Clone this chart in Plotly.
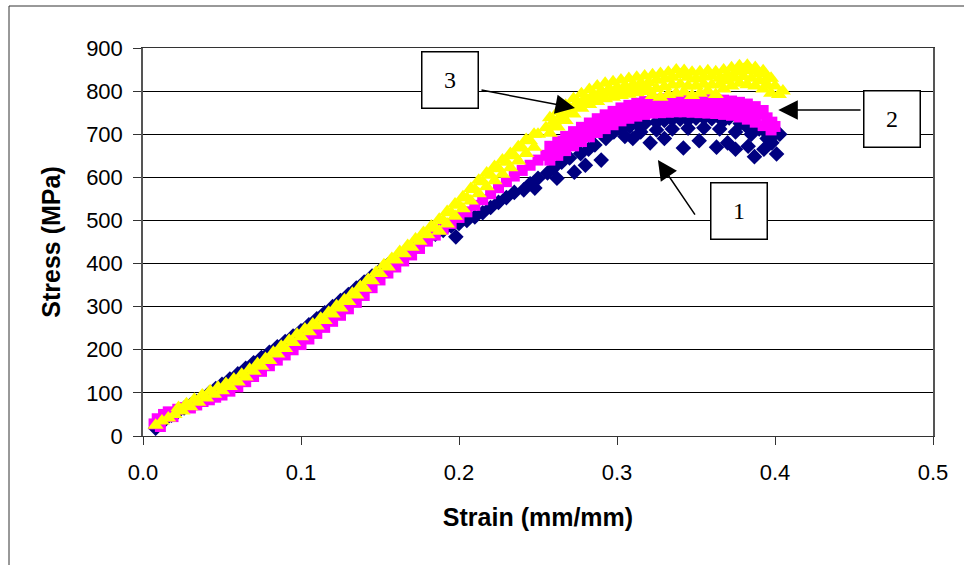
import plotly.graph_objects as go

# ---------------- data ----------------
# Series 1 (navy diamonds)
strain_1 = [0.008,0.011,0.014,0.018,0.022,0.026,0.030,0.034,0.038,0.042,0.046,0.050,
            0.055,0.060,0.065,0.070,0.075,0.080,0.085,0.090,0.095,0.100,
            0.105,0.110,0.115,0.120,0.125,0.130,0.135,0.140,0.145,0.150,
            0.155,0.160,0.165,0.170,0.175,0.180,0.185,0.190,0.195,
            0.198,0.200,0.205,0.210,0.215,0.220,0.225,0.230,0.235,
            0.241,0.245,0.250,0.256,0.260,0.265,0.270,0.273,0.277,0.282,0.286,0.290,0.293,0.298,
            0.303,0.308,0.313,0.318,0.321,0.325,0.330,0.335,0.340,0.342,0.345,0.350,0.355,
            0.360,0.363,0.367,0.371,0.375,0.378,0.382,0.387,0.390,0.394,0.397,0.401,0.403,
            0.305,0.315,0.325,0.335,0.345,0.355,0.365,0.375,0.385,0.395,
            0.330,0.352,0.370,0.383,0.393,0.398,0.280,0.262,0.248,0.310]
stress_1 = [18,30,38,48,56,65,72,80,90,100,110,120,
            132,144,157,170,182,194,207,219,232,244,
            258,272,286,300,314,328,343,357,371,384,
            397,410,422,434,446,458,468,477,487,
            462,493,500,508,518,530,542,553,565,
            571,585,598,610,622,635,645,612,655,665,675,640,690,705,
            712,718,722,726,680,728,732,735,735,668,733,737,738,
            736,670,730,738,665,725,718,648,712,705,690,654,700,
            695,705,710,712,714,715,712,705,700,690,
            690,685,680,672,665,680,628,598,575,690]

# Series 2 (magenta squares)
strain_2 = [0.007,0.009,0.011,0.013,0.016,0.019,0.022,0.026,0.030,0.034,0.038,0.042,0.046,0.050,
            0.055,0.060,0.065,0.070,0.075,0.080,0.085,0.090,0.095,0.100,
            0.105,0.110,0.115,0.120,0.125,0.130,0.135,0.140,0.145,0.150,
            0.155,0.160,0.165,0.170,0.175,0.180,0.185,0.190,0.195,0.200,
            0.205,0.210,0.215,0.220,0.225,0.230,0.235,0.240,0.245,0.250,
            0.255,0.260,0.265,0.270,0.275,0.280,0.285,0.290,0.295,0.300,
            0.305,0.310,0.315,0.320,0.325,0.330,0.335,0.340,0.345,0.350,
            0.355,0.360,0.365,0.370,0.375,0.380,0.385,0.390,0.395,0.398,0.400,
            0.2575,0.2625,0.2675,0.2725,0.2775,0.2825,0.2875,0.2925,0.2975,0.3025,
            0.3075,0.3125,0.3175,0.3225,0.3275,0.3325,0.3375,0.3425,0.3475,0.3525,
            0.3575,0.3625,0.3675,0.3725,0.3775,0.3825,0.3875,0.3925,
            0.2575,0.2625,0.2675,0.2725,0.2775,0.2825,0.2875,0.2925,0.2975,0.3025,
            0.3075,0.3125,0.3175,0.3225,0.3275,0.3325,0.3375,0.3425,0.3475,0.3525,
            0.3575,0.3625,0.3675,0.3725,0.3775,0.3825,0.3875,0.3925,0.3975]
stress_2 = [28,40,22,50,56,45,62,66,65,72,80,84,90,95,
            104,114,126,138,150,163,176,188,200,212,
            225,238,252,266,280,295,310,326,344,362,
            378,392,406,420,435,452,466,480,493,507,
            520,535,548,562,576,590,603,616,628,640,
            651,662,673,684,695,705,715,724,733,741,
            748,754,758,762,764,766,767,767,767,766,
            766,765,764,762,760,756,752,746,738,728,718,
            672,684,695,706,716,726,736,745,753,761,
            767,772,776,779,781,782,783,783,782,782,
            781,780,779,777,774,770,764,755,
            640,651,662,673,683,694,704,713,722,731,
            737,742,746,749,750,751,752,752,751,750,
            749,748,746,744,740,735,728,720,710]

# Series 3 (yellow triangles)
strain_3 = [0.008,0.012,0.016,0.020,
            0.025,0.030,0.035,0.040,0.045,0.050,0.055,0.060,0.065,0.070,
            0.075,0.080,0.085,0.090,0.095,0.100,
            0.105,0.110,0.115,0.120,0.125,0.130,0.135,0.140,0.145,0.150,
            0.155,0.160,0.165,0.170,0.175,0.180,0.185,0.190,0.195,0.200,
            0.205,0.210,0.215,0.220,0.225,0.230,0.235,0.240,0.245,0.250,
            0.255,0.260,0.265,0.270,0.275,0.280,0.285,0.290,0.295,0.300,
            0.305,0.310,0.315,0.320,0.325,0.330,0.335,0.340,0.345,0.350,
            0.355,0.360,0.365,0.370,0.375,0.380,0.385,0.390,0.395,0.400,0.405,
            # upper row along the rising part
            0.0225,0.0275,0.0325,0.0375,0.0425,0.0475,0.0525,0.0575,0.0625,0.0675,
            0.0725,0.0775,0.0825,0.0875,0.0925,0.0975,0.1025,0.1075,0.1125,0.1175,
            0.1225,0.1275,0.1325,0.1375,0.1425,0.1475,0.1525,0.1575,0.1625,0.1675,
            0.1725,0.1775,0.1825,0.1875,0.1925,0.1975,0.2025,0.2075,0.2125,0.2175,
            0.2225,0.2275,0.2325,0.2375,0.2425,0.2475,
            # lower row around the knee
            0.1875,0.1925,0.1975,0.2025,0.2075,0.2125,0.2175,0.2225,0.2275,0.2325,
            0.2375,0.2425,0.2475,
            # upper row on the plateau
            0.2575,0.2625,0.2675,0.2725,0.2775,0.2825,0.2875,0.2925,0.2975,0.3025,
            0.3075,0.3125,0.3175,0.3225,0.3275,0.3325,0.3375,0.3425,0.3475,0.3525,
            0.3575,0.3625,0.3675,0.3725,0.3775,0.3825,0.3875,0.3925,0.3975,
            # lower row on the plateau
            0.2575,0.2625,0.2675,0.2725,0.2775,0.2825,0.2875,0.2925,0.2975,0.3025,
            0.3075,0.3125,0.3175,0.3225,0.3275,0.3325,0.3375,0.3425,0.3475,0.3525,
            0.3575,0.3625,0.3675,0.3725,0.3775,0.3825,0.3875,0.3925,0.3975,0.4025,
            # middle row on the plateau
            0.260,0.265,0.270,0.275,0.280,0.285,0.290,0.295,0.300,0.305,
            0.310,0.315,0.320,0.325,0.330,0.335,0.340,0.345,0.350,0.355,
            0.360,0.365,0.370,0.375,0.380,0.385,0.390,0.395]
stress_3 = [25,35,42,50,
            58,68,78,88,97,105,115,125,137,150,
            162,175,190,203,217,230,
            242,255,268,283,297,312,327,343,360,377,
            392,408,423,438,452,467,482,500,518,535,
            552,572,590,605,620,635,650,668,685,700,
            715,730,745,760,775,785,793,800,805,808,
            812,815,818,820,825,828,832,838,832,828,
            833,835,830,838,845,850,847,840,830,812,800,
            66,75,85,95,105,113,122,132,143,155,
            168,180,194,208,222,236,248,260,273,287,
            302,316,331,347,363,380,397,412,428,442,
            457,472,487,503,521,538,555,574,593,610,
            625,640,655,671,688,700,
            475,492,510,527,545,562,578,592,607,622,
            638,655,670,
            738,752,767,782,794,804,812,818,822,826,
            829,832,835,838,841,844,849,848,844,845,
            847,845,849,854,859,860,855,847,830,
            702,717,732,747,760,769,776,782,786,790,
            793,796,799,790,786,792,795,798,790,795,
            800,792,805,812,818,815,812,805,795,792,
            720,735,750,764,775,783,790,795,798,801,
            804,806,804,806,810,814,816,812,812,816,
            814,816,824,830,834,830,824,815]

x_ticks = [0.0, 0.1, 0.2, 0.3, 0.4, 0.5]
x_tick_labels = ["0.0", "0.1", "0.2", "0.3", "0.4", "0.5"]
y_ticks = [0, 100, 200, 300, 400, 500, 600, 700, 800, 900]
y_tick_labels = ["0", "100", "200", "300", "400", "500", "600", "700", "800", "900"]

labels = ["1", "2", "3"]

# ---------------- figure ----------------
fig = go.Figure()
fig.add_trace(go.Scatter(x=strain_1, y=stress_1, mode="markers", name="1",
                         marker=dict(symbol="diamond", size=12, color="#000080", line=dict(width=0))))
fig.add_trace(go.Scatter(x=strain_2, y=stress_2, mode="markers", name="2",
                         marker=dict(symbol="square", size=11, color="#FF00FF", line=dict(width=0))))
fig.add_trace(go.Scatter(x=strain_3, y=stress_3, mode="markers", name="3",
                         marker=dict(symbol="triangle-up", size=14, color="#FFFF00", line=dict(width=0))))

sans = "Liberation Sans, Arial, sans-serif"
serif = "Liberation Serif, Times New Roman, serif"

# label boxes (center) and arrows (tail -> head), in data units
box_pos = {"3": (0.1946, 826), "2": (0.4741, 736), "1": (0.3769, 521)}
arrows = {"3": ((0.2133, 803), (0.2734, 761)),
          "2": ((0.4551, 756), (0.4021, 756)),
          "1": ((0.3500, 510), (0.3259, 640))}

annotations = []
for lab in labels:
    (tx, ty), (hx, hy) = arrows[lab]
    annotations.append(dict(x=hx, y=hy, ax=tx, ay=ty, xref="x", yref="y", axref="x", ayref="y",
                            text="", showarrow=True, arrowhead=2, arrowsize=2.6, arrowwidth=1.5,
                            arrowcolor="black", standoff=0, startstandoff=0))
for lab in labels:
    bx, by = box_pos[lab]
    annotations.append(dict(x=bx, y=by, xref="x", yref="y", text=lab, showarrow=False,
                            font=dict(family=serif, size=24, color="black"),
                            bordercolor="black", borderwidth=1.5, borderpad=0, bgcolor="white",
                            width=55, height=55, align="center", valign="middle"))

# outer frame (top and left edges of the original chart border)
L, R, T, B = 143, 933, 48, 436
def px_x(p):
    return (p - L) / (R - L)
def px_y(p):
    return (B - p) / (B - T)

shapes = [
    dict(type="line", xref="paper", yref="paper", x0=px_x(9), x1=px_x(970), y0=px_y(6), y1=px_y(6),
         line=dict(color="#333333", width=1)),
    dict(type="line", xref="paper", yref="paper", x0=px_x(9), x1=px_x(9), y0=px_y(6), y1=px_y(570),
         line=dict(color="#333333", width=1)),
]

fig.update_layout(
    width=964, height=565,
    margin=dict(l=L, r=964 - R, t=T, b=565 - B),
    plot_bgcolor="white", paper_bgcolor="white",
    showlegend=False,
    font=dict(family=sans, color="black"),
    annotations=annotations,
    shapes=shapes,
    xaxis=dict(range=[0, 0.5], tickvals=x_ticks, ticktext=x_tick_labels,
               ticks="outside", ticklen=8, tickwidth=1, tickcolor="#333333",
               showline=True, linecolor="#333333", linewidth=1, mirror=True,
               showgrid=False, zeroline=False,
               tickfont=dict(family=sans, size=22, color="black"),
               ticklabelstandoff=9,
               title=dict(text="<b>Strain (mm/mm)</b>", font=dict(family=sans, size=25, color="black"),
                          standoff=24)),
    yaxis=dict(range=[0, 900], tickvals=y_ticks, ticktext=y_tick_labels,
               ticks="outside", ticklen=8, tickwidth=1, tickcolor="#333333",
               showline=True, linecolor="#555555", linewidth=1.5, mirror=True,
               showgrid=True, gridcolor="#000000", gridwidth=1, zeroline=False,
               tickfont=dict(family=sans, size=22, color="black"),
               ticklabelstandoff=6,
               title=dict(text="<b>Stress (MPa)</b>", font=dict(family=sans, size=25, color="black"),
                          standoff=18)),
)

fig.write_html("out.html", config={"displayModeBar": False},
               post_script="document.body.style.margin='0px';document.body.style.padding='0px';")
